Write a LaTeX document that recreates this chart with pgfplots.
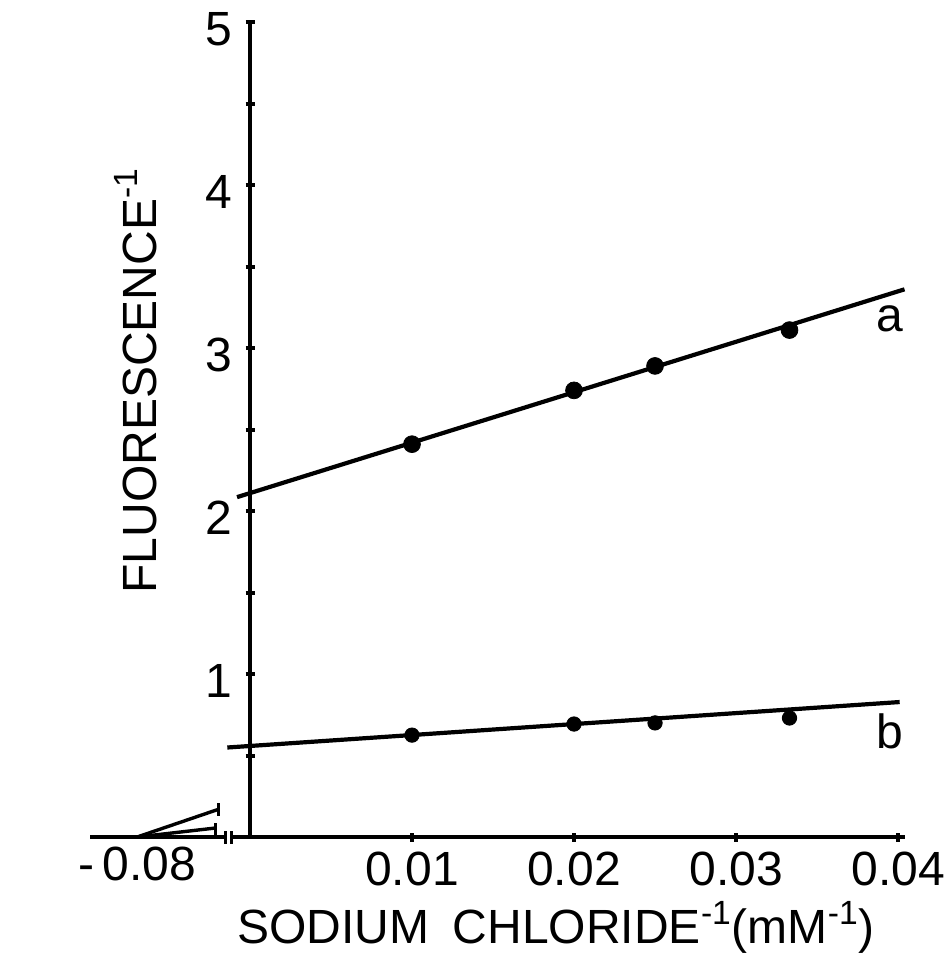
\documentclass[border=0pt]{standalone}
\usepackage{pgfplots}
\pgfplotsset{compat=1.18}
\usepackage{fontspec}
\setmainfont{Liberation Sans}

\pgfplotsset{
  every axis/.append style={
    scale only axis,
    height=407.5pt,
    ymin=0, ymax=5,
    clip=false,
    scaled x ticks=false,
    scaled y ticks=false,
    tick align=inside,
    major tick length=4.5pt,
    minor tick length=4.5pt,
    tick style={line width=2pt, black},
    /pgf/number format/assume math mode=true,
  },
  curve/.style={black, line width=2.1pt},
  thin curve/.style={black, line width=1.7pt},
}

\begin{document}
\fontsize{24}{28}\selectfont
\begin{tikzpicture}
\useasboundingbox (0pt,-58pt) rectangle (476pt,418.5pt);

% main part of the plot: positive reciprocal concentrations
\begin{axis}[
  at={(125pt,0pt)}, anchor=south west,
  width=327.5pt,
  xmin=0, xmax=0.04043,
  axis lines=left,
  axis line style={-, line width=2.4pt},
  xtick={0.01,0.02,0.03,0.04},
  xticklabels={0.01,0.02,0.03,0.04},
  ytick={1,2,3,4,5},
  minor ytick={0.5,1.5,2.5,3.5,4.5},
  xticklabel style={inner ysep=0pt, yshift=-5pt},
  yticklabel style={inner xsep=0pt, xshift=-6.5pt, yshift=-3.5pt},
  xlabel={SODIUM\enspace CHLORIDE\textsuperscript{-1}(mM\textsuperscript{-1})},
  ylabel={FLUORESCENCE\textsuperscript{-1}},
  xlabel style={at={(axis description cs:0.467,0)}, anchor=base, yshift=-53pt},
  ylabel style={at={(axis description cs:-0.1435,0.56)}, anchor=base},
]
% short piece of the x axis left of the origin
\addplot[black, line width=2.4pt] coordinates {(-0.0011,0) (0,0)};

% series a
\addplot[curve] coordinates {(-0.0008,2.085) (0.0404,3.36)};
\addplot[black, only marks, mark=*, mark size=4.2pt]
  coordinates {(0.01,2.41) (0.02,2.74) (0.025,2.89) (0.0333,3.11)};
\node[anchor=base] at (axis cs:0.0395,3.10) {a};

% series b
\addplot[curve] coordinates {(-0.0014,0.549) (0.0401,0.828)};
\addplot[black, only marks, mark=*, mark size=3.6pt]
  coordinates {(0.01,0.625) (0.02,0.693) (0.025,0.70) (0.0333,0.73)};
\node[anchor=base] at (axis cs:0.0395,0.546) {b};
\end{axis}

% compressed negative part with the extrapolated intercepts
\begin{axis}[
  at={(45pt,0pt)}, anchor=south west,
  width=67.5pt,
  xmin=-0.0829, xmax=-0.0746,
  axis x line=bottom,
  axis y line=none,
  axis line style={-, line width=2.4pt},
  xtick={-0.08},
  xticklabels={-\,0.08},
  major tick length=0pt,
  ytick=\empty,
  xticklabel style={inner ysep=0pt, yshift=-5pt},
]
\addplot[thin curve] coordinates {(-0.0800,0) (-0.0750,0.17)};
\addplot[thin curve] coordinates {(-0.0800,0) (-0.0752,0.055)};
% end bars of the extrapolations
\addplot[thin curve] coordinates {(-0.0750,0.13) (-0.0750,0.21)};
\addplot[thin curve] coordinates {(-0.0752,0.01) (-0.0752,0.085)};
% axis break
\addplot[thin curve] coordinates {(-0.07457,-0.04) (-0.07457,0.035)};
\addplot[thin curve] coordinates {(-0.0742,-0.04) (-0.0742,0.035)};
\end{axis}
\end{tikzpicture}
\end{document}
